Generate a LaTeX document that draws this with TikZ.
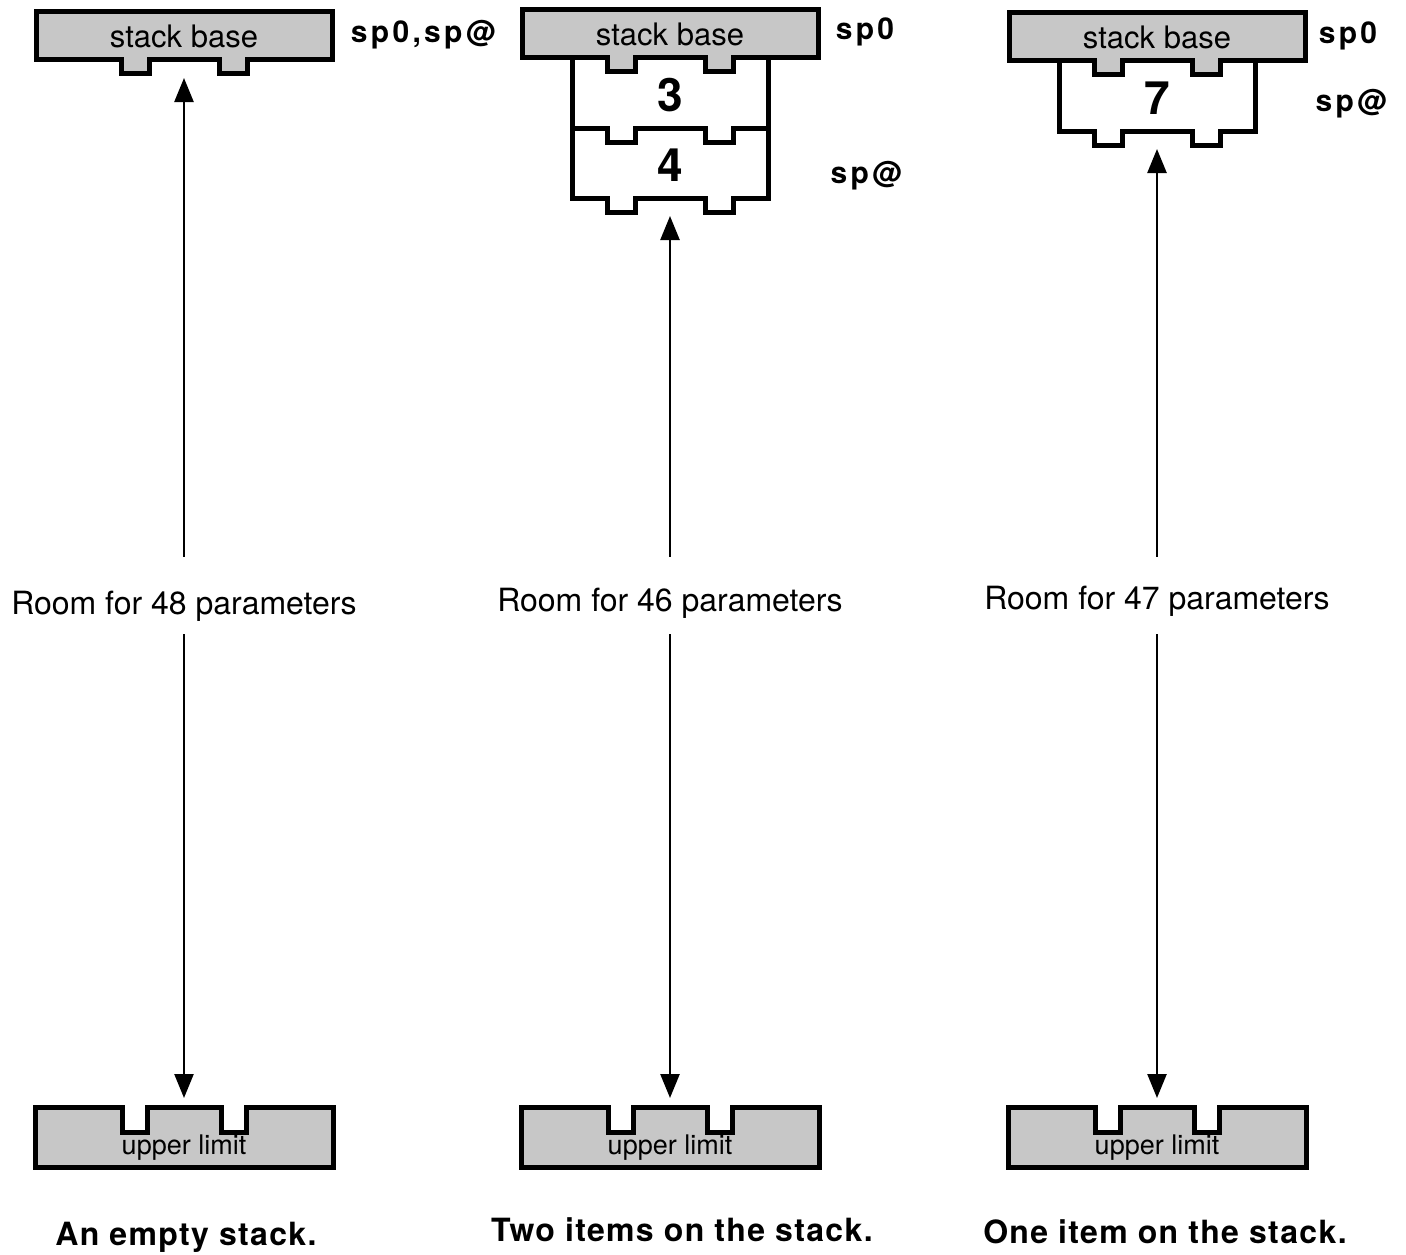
\documentclass[tikz,border=0pt]{standalone}
\usepackage{fontspec}
\setmainfont{TeX Gyre Heros}
\newfontfamily\spfont{TeX Gyre Heros}[LetterSpace=11]
\newfontfamily\pief{TeX Gyre Heros}[LetterSpace=4]
\usetikzlibrary{arrows.meta,calc}
\definecolor{cgris}{gray}{0.78}
\tikzset{
  borde/.style={line width=5pt, draw=black, line join=miter},
  trama/.style={borde, fill=cgris},
  celda/.style={borde, fill=white},
  etqbase/.style={inner sep=0pt, font=\fontsize{31}{36}\selectfont},
  etqlim/.style={inner sep=0pt, font=\fontsize{27}{32}\selectfont},
  num/.style={inner sep=0pt, font=\bfseries\fontsize{46}{52}\selectfont},
  sala/.style={inner sep=0pt, font=\fontsize{32}{38}\selectfont},
  spetq/.style={inner sep=0pt, font=\spfont\bfseries\fontsize{30}{36}\selectfont},
  pie/.style={inner sep=0pt, font=\pief\bfseries\fontsize{32}{38}\selectfont},
  flecha/.style={-{Triangle[length=24pt,width=19pt]}, line width=2.5pt},
}
% base de la pila: #1 nombre, #2 x centro, #3 y arriba
\newcommand{\pilabase}[3]{%
  \draw[trama] (#2-148,-#3) -- (#2+148,-#3) -- (#2+148,-#3-48) -- (#2+63,-#3-48)
    -- (#2+63,-#3-62) -- (#2+35,-#3-62) -- (#2+35,-#3-48) -- (#2-35,-#3-48)
    -- (#2-35,-#3-62) -- (#2-63,-#3-62) -- (#2-63,-#3-48) -- (#2-148,-#3-48) -- cycle;
  \node[etqbase] (#1) at (#2,-#3-24) {stack base};
  \coordinate (#1-s) at (#2,-#3-66);}
% celda de la pila: #1 nombre, #2 x centro, #3 y arriba, #4 valor
\newcommand{\pilacelda}[4]{%
  \draw[celda] (#2-98,-#3) -- (#2-63,-#3) -- (#2-63,-#3-14) -- (#2-35,-#3-14) -- (#2-35,-#3)
    -- (#2+35,-#3) -- (#2+35,-#3-14) -- (#2+63,-#3-14) -- (#2+63,-#3) -- (#2+98,-#3)
    -- (#2+98,-#3-70) -- (#2+63,-#3-70) -- (#2+63,-#3-84) -- (#2+35,-#3-84) -- (#2+35,-#3-70)
    -- (#2-35,-#3-70) -- (#2-35,-#3-84) -- (#2-63,-#3-84) -- (#2-63,-#3-70) -- (#2-98,-#3-70) -- cycle;
  \node[num] (#1) at (#2,-#3-37) {#4};
  \coordinate (#1-s) at (#2,-#3-88);}
% limite superior: #1 nombre, #2 x centro, #3 y arriba
\newcommand{\pilalimite}[3]{%
  \draw[trama] (#2-149,-#3) -- (#2-62,-#3) -- (#2-62,-#3-25) -- (#2-37,-#3-25) -- (#2-37,-#3)
    -- (#2+37,-#3) -- (#2+37,-#3-25) -- (#2+62,-#3-25) -- (#2+62,-#3) -- (#2+149,-#3)
    -- (#2+149,-#3-60) -- (#2-149,-#3-60) -- cycle;
  \node[etqlim] (#1) at (#2,-#3-41) {upper limit};
  \coordinate (#1-n) at (#2,-#3+9);}

\begin{document}
\begin{tikzpicture}[x=1pt, y=1pt]
  \useasboundingbox (0,0) rectangle (1406,-1255);
  % pila vacia
  \pilabase{base1}{184}{12}
  \pilalimite{lim1}{184}{1107}
  \node[spetq] (sp1) at (423,-35) {sp0,sp@};
  \node[sala] (sala1) at (184,-606) {Room for 48 parameters};
  \draw[flecha, shorten <=34pt] (sala1) -- (base1-s);
  \draw[flecha, shorten <=13pt] (sala1) -- (lim1-n);
  \node[pie] (pie1) at (186,-1237) {An empty stack.};
  % dos elementos
  \pilabase{base2}{670}{10}
  \pilacelda{c3}{670}{58}{3}
  \pilacelda{c4}{670}{128}{4}
  \pilalimite{lim2}{670}{1107}
  \node[spetq] (sp2) at (865,-32) {sp0};
  \node[spetq] (sp3) at (866,-176) {sp@};
  \node[sala] (sala2) at (670,-603) {Room for 46 parameters};
  \draw[flecha, shorten <=31pt] (sala2) -- (c4-s);
  \draw[flecha, shorten <=16pt] (sala2) -- (lim2-n);
  \node[pie] (pie2) at (682,-1230) {Two items on the stack.};
  % un elemento
  \pilabase{base3}{1157}{13}
  \pilacelda{c7}{1157}{61}{7}
  \pilalimite{lim3}{1157}{1107}
  \node[spetq] (sp4) at (1348,-36) {sp0};
  \node[spetq] (sp5) at (1351,-104) {sp@};
  \node[sala] (sala3) at (1157,-601) {Room for 47 parameters};
  \draw[flecha, shorten <=29pt] (sala3) -- (c7-s);
  \draw[flecha, shorten <=18pt] (sala3) -- (lim3-n);
  \node[pie] (pie3) at (1165,-1232) {One item on the stack.};
\end{tikzpicture}
\end{document}
